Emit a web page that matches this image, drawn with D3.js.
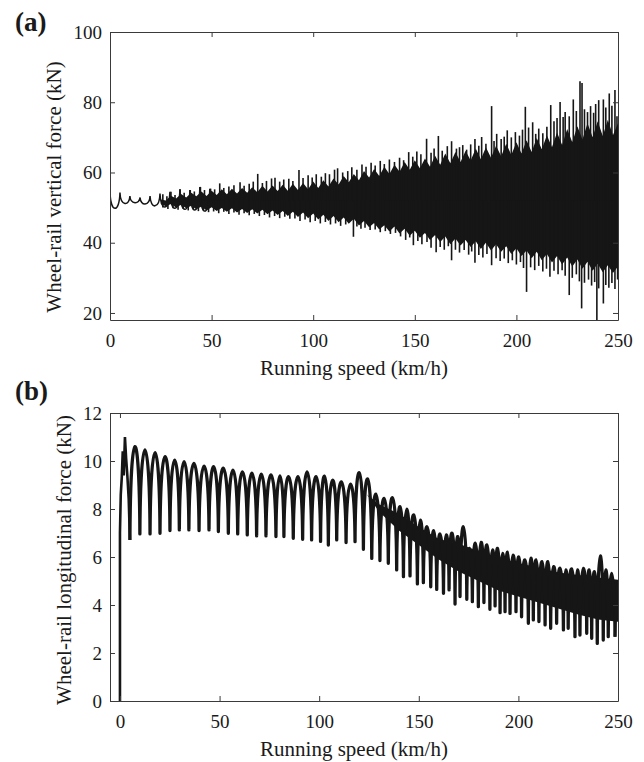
<!DOCTYPE html>
<meta charset="utf-8">
<style>
body { margin: 0; background: #fff; }
text { font-family: "Liberation Serif", "Times New Roman", serif; fill: #1a1a1a; }
.axis text { font-size: 19px; }
.axis path, .axis line { stroke: #3a3a3a; stroke-width: 1; }
</style>
<svg width="644" height="762"></svg>
<script src="https://d3js.org/d3.v7.min.js"></script>
<script>
// ---- panel (a): wheel-rail vertical force ----
// low speed cycles (sharp peaks, round troughs)
var cuspSpeedA = [0, 4.9, 9.8, 14.8, 19.7, 24.6, 29.5, 34.4, 39.3, 44.2, 49.1];
var cuspValueA = [54.5, 54.3, 53.3, 52.9, 53.3, 54.0, 54.5, 55.2, 55.0, 55.9, 55.4];
var troughA = [49.8, 51.2, 51.4, 51.0, 50.5, 50.2, 49.8, 49.5, 49.3, 49.0];

// solid body of the dense signal, sampled every 2.5 km/h from 25 km/h
var bodyStartA = 25, bodyStepA = 2.5;
var bodyUpperA = [52.3, 52.0, 53.4, 52.6, 53.9, 52.9, 54.2, 53.2, 54.6, 53.3, 54.8, 53.6, 55.2, 53.8, 55.4, 54.0, 55.6, 54.2, 55.8, 54.4,
  56.2, 54.6, 56.3, 54.7, 56.5, 54.8, 56.8, 55.0, 57.0, 55.2, 57.4, 55.6, 57.8, 56.0, 58.3, 56.6, 59.0, 57.2, 59.6, 57.8,
  60.4, 58.6, 61.0, 59.0, 61.6, 59.6, 62.2, 60.2, 63.0, 60.8, 63.5, 61.2, 64.0, 61.6, 64.8, 62.2, 65.4, 62.6, 65.8, 63.0,
  66.2, 63.4, 66.8, 63.8, 67.2, 64.2, 67.6, 64.6, 68.2, 65.0, 68.6, 65.4, 69.2, 65.8, 69.8, 66.6, 70.6, 67.2, 71.4, 67.8,
  72.4, 68.6, 73.2, 69.4, 74.0, 70.0, 74.6, 70.4, 75.0, 70.6, 74.0];
var bodyLowerA = [51.0, 50.4, 51.0, 50.0, 50.8, 49.8, 50.5, 49.5, 50.3, 49.2, 50.1, 49.0, 49.9, 48.8, 49.8, 48.6, 49.6, 48.5, 49.5, 48.3,
  49.4, 48.1, 49.2, 47.9, 49.0, 47.6, 48.8, 47.3, 48.6, 47.0, 48.3, 46.6, 48.0, 46.2, 47.6, 45.8, 47.2, 45.4, 46.8, 44.9,
  46.2, 44.4, 45.6, 43.8, 45.0, 43.2, 44.6, 42.6, 44.0, 42.0, 43.4, 41.4, 42.8, 40.8, 42.2, 40.2, 41.8, 39.6, 41.2, 39.2,
  40.8, 38.8, 40.4, 38.2, 40.0, 37.8, 39.6, 37.4, 39.0, 36.8, 38.4, 36.2, 37.8, 35.6, 37.4, 35.0, 36.8, 34.4, 36.2, 33.8,
  35.8, 33.2, 35.2, 32.6, 34.6, 32.0, 34.0, 31.6, 33.6, 31.4, 33.2];

// peaks above the body [speed, kN]
var upTipsA = [[26,53.8],[28,53.2],[30,54.5],[32,53.6],[34.5,55.2],[36.5,54.2],[39.5,55.0],[41.5,54.6],[44.5,55.9],[46.5,55.0],[49.5,55.4],[51.5,55.2],[54,56.9],[56,55.6],[58.5,56.0],[61,56.4],[64,57.2],[66,56.2],[68.5,56.8],[70.5,57.4],[72.7,59.6],[75,57.0],[77,57.6],[79.5,58.3],[81.2,58.5],[83.5,57.4],[85.5,58.0],[88,58.2],[90,57.6],[93,60.7],[95,58.4],[97.5,59.2],[99.5,58.6],[101.5,59.5],[104,58.8],[106,59.8],[108,59.5],[110.5,60.8],[112,61.2],[114.5,60.0],[117,60.4],[119,61.5],[121.5,60.8],[124,62.3],[126,61.6],[128.5,62.8],[130.5,62.0],[133,63.3],[135,62.4],[137.5,63.7],[140,63.0],[142.5,64.2],[144.5,63.5],[147,65.8],[149,64.5],[151,66.0],[153,65.2],[155.8,69.6],[158,65.6],[159.5,66.8],[161.6,70.4],[163.5,66.2],[166,67.5],[168.1,68.9],[170.5,66.8],[172,67.2],[173.6,67.8],[175.5,66.5],[177.5,68.0],[179.6,69.5],[181.5,67.6],[182.9,70.1],[185,68.2],[187.8,78.9],[189,69.0],[190.3,71.0],[192.5,69.5],[194,70.2],[195.5,72.0],[197.5,70.0],[199.5,71.5],[201.5,70.5],[203,72.2],[204.4,78.7],[206,72.8],[208,74.3],[209.5,71.0],[211,72.5],[213,71.2],[215,73.0],[216.9,79.2],[218.5,74.6],[220,75.5],[221.5,80.1],[223,75.8],[224,77.2],[226,76.0],[228,80.8],[229.5,77.5],[231.3,86.0],[232.3,85.5],[233.5,78.0],[235,77.2],[236.5,78.9],[238,77.0],[239,79.5],[240.5,80.6],[242.8,80.8],[244,78.5],[245.7,82.5],[247,79.0],[248.5,83.5],[249.5,76.0]];

// troughs below the body [speed, kN]
var lowTipsA = [[26,50.0],[28.5,49.6],[31,49.8],[33.5,49.4],[36,49.7],[38.5,49.2],[41,49.5],[43.5,49.0],[46,49.2],[48.5,48.7],[51,48.9],[53.5,48.4],[56,48.8],[58.5,48.2],[61,48.6],[63.5,48.0],[66,48.4],[68.5,47.8],[71,48.2],[73.5,47.6],[76,47.9],[78.5,47.2],[81,47.6],[83.5,47.0],[86,47.4],[88.5,46.8],[91,46.9],[93.5,46.2],[96,46.6],[98.5,45.8],[101,46.2],[103.5,45.5],[106,45.9],[108.5,45.2],[111,45.5],[113.5,44.8],[116,45.2],[119.8,41.7],[121.5,44.6],[123.5,44.0],[125.5,44.3],[128,43.6],[130.5,43.8],[133,43.0],[135.5,43.3],[138,42.5],[140.5,42.8],[143,41.8],[145.5,40.8],[147.5,41.5],[149.3,39.3],[151.5,40.5],[153.5,39.6],[156,40.2],[158,38.6],[160.5,37.3],[162.5,38.8],[164.5,38.0],[166.5,39.0],[168.1,35.0],[170,38.0],[172,37.2],[174.3,37.9],[176.5,36.6],[178,37.5],[179.6,34.3],[181.5,36.5],[183.5,35.8],[185.5,36.8],[187.8,33.6],[190,35.6],[192,34.8],[194,35.5],[196,34.2],[198,35.0],[200,33.8],[202,34.5],[203.5,32.8],[205,26.0],[207,33.0],[209,32.2],[211,33.4],[213,31.8],[214.8,32.6],[216.5,30.3],[218.5,32.0],[220.5,31.0],[222.5,32.2],[224,30.6],[226,25.1],[227.5,30.0],[229.5,31.0],[231,29.0],[232.1,21.3],[233.5,28.6],[235.5,29.5],[237,27.8],[238.5,28.8],[239.6,17.5],[240.5,27.0],[242.8,22.7],[244,28.0],[245.5,27.2],[247,28.5],[248.5,26.8],[249.8,29.5]];

// ---- panel (b): wheel-rail longitudinal force ----
var startSpeedB = [0, 0, 0.4, 0.9, 1.4, 1.9, 2.5, 3.1, 3.7, 4.4, 5.0];
var startValueB = [0, 7.0, 8.6, 9.3, 10.4, 9.4, 11.0, 10.1, 9.4, 8.4, 6.71];

// sharp dips of the periodic signal
var dipSpeedB = [5.0, 10.0, 15.1, 20.1, 25.1, 29.8, 34.6, 39.7, 44.7, 49.4, 54.4, 59.1, 63.9, 68.6, 73.3, 78.3, 82.3, 87.0, 91.7, 96.2, 100.7, 104.6,
  108.8, 113.5, 118, 122.2, 126.4, 130.5, 134.7, 138.9, 142.3, 145.6, 149.3, 152.3, 156, 159, 162.4, 165.2, 168.2, 170.7, 174.1, 176.9, 179.9,
  182.7, 185.7, 188.3, 190.8, 193.3, 195.8, 198.8, 201.6, 205, 207.5, 210.3, 213.4, 216.2, 219.2, 222.6, 225, 228.4, 230.9, 234.3, 236.8, 239.6, 242.6, 245.1, 248.5];
var dipValueB = [6.71, 6.96, 6.96, 6.99, 7.10, 7.13, 7.13, 7.10, 7.13, 7.06, 6.99, 6.96, 6.92, 6.88, 6.88, 6.85, 6.85, 6.78, 6.74, 6.71, 6.65, 6.5,
  6.71, 6.6, 6.64, 6.32, 5.94, 5.85, 5.74, 5.46, 5.18, 5.21, 4.88, 4.93, 4.76, 4.65, 4.49, 4.63, 4.04, 4.35, 4.24, 4.14, 3.93,
  4.1, 3.82, 3.96, 3.68, 3.72, 3.65, 3.72, 3.51, 3.24, 3.38, 3.31, 3.17, 3.03, 3.24, 2.96, 3.03, 2.68, 2.75, 2.82, 2.61, 2.40, 2.54, 2.68, 2.68];
// hump tops between consecutive dips
var peakB = [10.6, 10.46, 10.35, 10.18, 10.04, 9.97, 9.9, 9.79, 9.76, 9.7, 9.62, 9.55, 9.49, 9.45, 9.42, 9.38, 9.35, 9.35, 9.55, 9.35, 9.37, 9.2,
  9.13, 9.04, 9.51, 9.25, 8.62, 8.44, 8.47, 8.10, 7.99, 7.75, 7.54, 7.26, 7.10, 6.96, 6.92, 6.99, 6.85, 7.26, 6.36, 6.57, 6.61,
  6.5, 6.29, 6.36, 6.15, 6.2, 6.08, 6.0, 5.88, 5.95, 5.88, 5.81, 5.81, 5.6, 5.53, 5.46, 5.5, 5.46, 5.53, 5.46, 5.39, 6.04, 5.46, 5.32];
var endSpeedB = [248.5, 249.3, 250];
var endValueB = [2.68, 4.6, 5.0];

// dense core at high speed
var coreSpeedB = [124, 130, 140, 150, 160, 170, 180, 190, 200, 210, 220, 230, 240, 250];
var coreTopB = [8.6, 8.2, 7.8, 7.25, 6.75, 6.55, 6.25, 5.95, 5.75, 5.55, 5.35, 5.25, 5.15, 5.05];
var coreBottomB = [8.6, 7.9, 7.1, 6.5, 5.9, 5.4, 5.0, 4.6, 4.35, 4.1, 3.85, 3.6, 3.4, 3.3];

var speedTicks = [0, 50, 100, 150, 200, 250];
var ink = "#161616";

var svg = d3.select("svg");

function cuspPath(x, y, cs, cv, mid) {
    var p = "M" + x(cs[0]) + "," + y(cv[0]);
    for (var i = 0; i < cs.length - 1; i++) {
        var x0 = x(cs[i]), x1 = x(cs[i + 1]);
        var y0 = y(cv[i]), y1 = y(cv[i + 1]);
        var h = (y(mid[i]) - (y0 + y1) / 8) / 0.75;
        var g = x1 - x0;
        p += "C" + (x0 + 0.05 * g) + "," + h + " " + (x1 - 0.05 * g) + "," + h + " " + x1 + "," + y1;
    }
    return p;
}

function drawFrame(g, x, y, w, h, yTicks) {
    g.append("g").attr("class", "axis").attr("transform", "translate(0," + h + ")")
        .call(d3.axisBottom(x).tickValues(speedTicks).tickSize(-5).tickSizeOuter(0).tickPadding(13.5));
    g.append("g").attr("class", "axis")
        .call(d3.axisTop(x).tickValues(speedTicks).tickSize(-5).tickSizeOuter(0).tickFormat(""));
    g.append("g").attr("class", "axis")
        .call(d3.axisLeft(y).tickValues(yTicks).tickSize(-5).tickSizeOuter(0).tickPadding(8));
    g.append("g").attr("class", "axis").attr("transform", "translate(" + w + ",0)")
        .call(d3.axisRight(y).tickValues(yTicks).tickSize(-5).tickSizeOuter(0).tickFormat(""));
    g.selectAll(".axis text").attr("fill", "#1a1a1a");
}

// ---------- panel a ----------
(function() {
    var left = 110, top = 32, w = 508, h = 288;
    var g = svg.append("g").attr("transform", "translate(" + left + "," + top + ")");
    var x = d3.scaleLinear().domain([0, 250]).range([0, w]);
    var y = d3.scaleLinear().domain([18, 100]).range([h, 0]);

    svg.append("clipPath").attr("id", "clipA").append("rect").attr("width", w).attr("height", h);
    var plot = g.append("g").attr("clip-path", "url(#clipA)");

    plot.append("path")
        .attr("d", d3.area().x(function(d, i) { return x(bodyStartA + i * bodyStepA); })
            .y0(function(d, i) { return y(bodyLowerA[i]); })
            .y1(function(d) { return y(d); })(bodyUpperA))
        .attr("fill", ink);

    plot.selectAll("line.up").data(upTipsA).enter().append("line")
        .attr("x1", function(d) { return x(d[0]); }).attr("x2", function(d) { return x(d[0]); })
        .attr("y1", y(52)).attr("y2", function(d) { return y(d[1]); })
        .attr("stroke", ink).attr("stroke-width", 1.6);
    plot.selectAll("line.low").data(lowTipsA).enter().append("line")
        .attr("x1", function(d) { return x(d[0]); }).attr("x2", function(d) { return x(d[0]); })
        .attr("y1", y(52)).attr("y2", function(d) { return y(d[1]); })
        .attr("stroke", ink).attr("stroke-width", 1.6);

    plot.append("path")
        .attr("d", cuspPath(x, y, cuspSpeedA, cuspValueA, troughA))
        .attr("fill", "none").attr("stroke", ink).attr("stroke-width", 1.5);

    drawFrame(g, x, y, w, h, [20, 40, 60, 80, 100]);

    svg.append("text").attr("x", 15).attr("y", 31).attr("font-weight", "bold")
        .attr("font-size", 27).text("(a)");
    svg.append("text").attr("x", 354).attr("y", 375).attr("text-anchor", "middle")
        .attr("font-size", 21).text("Running speed (km/h)");
    svg.append("text").attr("transform", "translate(61,187) rotate(-90)").attr("text-anchor", "middle")
        .attr("font-size", 21).text("Wheel-rail vertical force (kN)");
})();

// ---------- panel b ----------
(function() {
    var left = 110, top = 413, w = 508, h = 288;
    var g = svg.append("g").attr("transform", "translate(" + left + "," + top + ")");
    var x = d3.scaleLinear().domain([-5, 250]).range([0, w]);
    var y = d3.scaleLinear().domain([0, 12]).range([h, 0]);

    svg.append("clipPath").attr("id", "clipB").append("rect").attr("width", w).attr("height", h);
    var plot = g.append("g").attr("clip-path", "url(#clipB)");

    plot.append("path")
        .attr("d", d3.area().x(function(d, i) { return x(coreSpeedB[i]); })
            .y0(function(d, i) { return y(coreBottomB[i]); })
            .y1(function(d, i) { return y(coreTopB[i]); })(coreSpeedB))
        .attr("fill", ink);

    var line = d3.line().x(function(d) { return x(d[0]); }).y(function(d) { return y(d[1]); });
    plot.append("path")
        .attr("d", line(startSpeedB.map(function(s, i) { return [s, startValueB[i]]; })))
        .attr("fill", "none").attr("stroke", ink).attr("stroke-width", 2.6);
    plot.append("path")
        .attr("d", cuspPath(x, y, dipSpeedB, dipValueB, peakB))
        .attr("fill", "none").attr("stroke", ink).attr("stroke-width", 3.3)
        .attr("stroke-linejoin", "round");
    plot.append("path")
        .attr("d", line(endSpeedB.map(function(s, i) { return [s, endValueB[i]]; })))
        .attr("fill", "none").attr("stroke", ink).attr("stroke-width", 2.6);

    drawFrame(g, x, y, w, h, [0, 2, 4, 6, 8, 10, 12]);

    svg.append("text").attr("x", 15).attr("y", 400).attr("font-weight", "bold")
        .attr("font-size", 27).text("(b)");
    svg.append("text").attr("x", 354).attr("y", 756).attr("text-anchor", "middle")
        .attr("font-size", 21).text("Running speed (km/h)");
    svg.append("text").attr("transform", "translate(71,560) rotate(-90)").attr("text-anchor", "middle")
        .attr("font-size", 21).text("Wheel-rail longitudinal force (kN)");
})();
</script>
